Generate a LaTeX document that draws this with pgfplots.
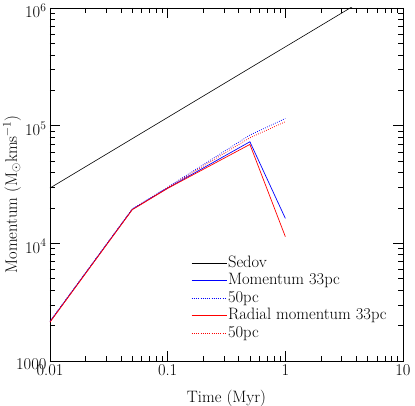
\documentclass[border=0pt]{standalone}
\usepackage{fontspec}
\usepackage{pgfplots}
\pgfplotsset{compat=1.18}
\begin{document}
\begin{tikzpicture}[font=\fontsize{16.5}{19}\selectfont]
\path[use as bounding box] (-50pt,-45pt) rectangle (365pt,361pt);
\begin{axis}[
  at={(0,0)}, anchor=south west,
  scale only axis, width=353pt, height=353pt,
  xmode=log, ymode=log,
  xmin=0.01, xmax=10, ymin=1000, ymax=1e6,
  xtick={0.01,0.1,1,10}, xticklabels={0.01,0.1,1,10},
  ytick={1000,1e4,1e5,1e6},
  yticklabels={1000,10\textsuperscript{4},10\textsuperscript{5},10\textsuperscript{6}},
  tick label style={font=\fontsize{16.5}{19}\selectfont},
  label style={font=\fontsize{16.5}{19}\selectfont},
  yticklabel style={yshift=-3pt},
  xlabel={Time (Myr)},
  ylabel={Momentum (M$_\odot$kms\textsuperscript{−1})},
  xlabel style={at={(axis description cs:0.5,-0.106)}, anchor=center},
  ylabel style={at={(axis description cs:-0.108,0.472)}, anchor=center},
  tick align=inside, major tick length=10pt, minor tick length=5pt,
  every tick/.style={black, line width=0.5pt},
  axis line style={line width=0.8pt},
  legend style={draw=none, fill=none, inner sep=0pt,
    font=\fontsize{16.5}{19}\selectfont,
    at={(rel axis cs:0.40,0.302)}, anchor=north west,
    cells={anchor=west}, row sep=0pt,
    nodes={inner sep=1pt, text height=11.5pt, text depth=4pt}},
  legend image code/.code={\draw[#1] (0pt,0pt) -- (35pt,0pt);},
]
% Sedov, p ~ t^{3/5}
\addplot[black, line width=0.6pt] coordinates {(0.01,29500) (10,1.861e6)};
\addlegendentry{Sedov}
\addplot[blue, line width=0.7pt] coordinates {(0.01,2160) (0.05,19450) (0.1,29500) (0.5,73000) (1,16300)};
\addlegendentry{Momentum 33pc}
\addplot[blue, line width=0.7pt, dash pattern=on 0.8pt off 1.4pt] coordinates {(0.01,2180) (0.05,19600) (0.1,30000) (0.5,83200) (1,115000)};
\addlegendentry{50pc}
\addplot[red, line width=0.7pt] coordinates {(0.01,2140) (0.05,19300) (0.1,29300) (0.5,69300) (1,11400)};
\addlegendentry{Radial momentum 33pc}
\addplot[red, line width=0.7pt, dash pattern=on 0.8pt off 1.4pt] coordinates {(0.01,2150) (0.05,19400) (0.1,29700) (0.5,78900) (1,108000)};
\addlegendentry{50pc}
\end{axis}
\end{tikzpicture}
\end{document}
